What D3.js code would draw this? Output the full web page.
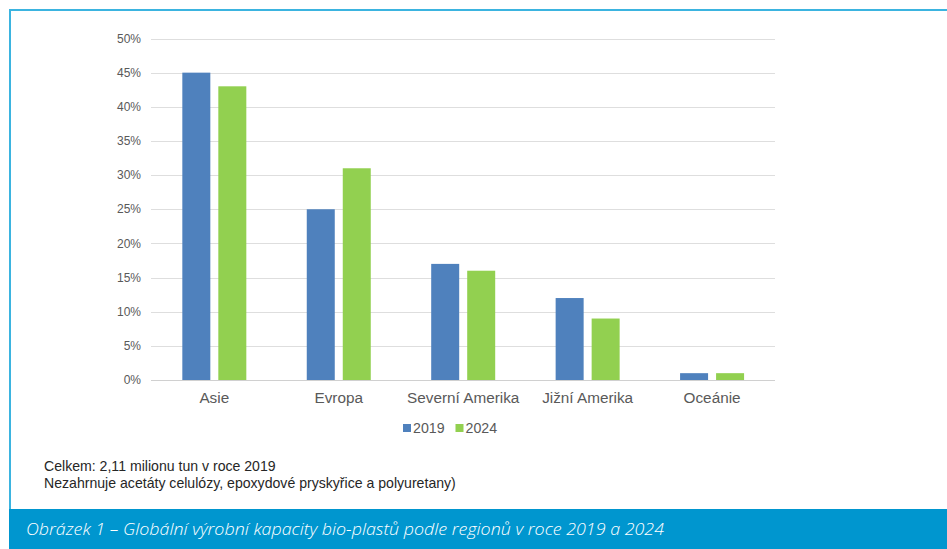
<!DOCTYPE html>
<html><head><meta charset="utf-8">
<script src="https://cdn.jsdelivr.net/npm/d3@7"></script>
<style>body{margin:0;background:#fff}svg{display:block}</style>
</head><body>
<svg id="c" width="947" height="549"></svg>
<script>
const categories = ["Asie", "Evropa", "Severní Amerika", "Jižní Amerika", "Oceánie"];
const seriesNames = ["2019", "2024"];
const values2019 = [45, 25, 17, 12, 1];
const values2024 = [43, 31, 16, 9, 1];
const yTicks = [0, 5, 10, 15, 20, 25, 30, 35, 40, 45, 50];
const colors = ["#4f81bd", "#92d050"];
const notes = ["Celkem: 2,11 milionu tun v roce 2019", "Nezahrnuje acetáty celulózy, epoxydové pryskyřice a polyuretany)"];
const caption = "Obrázek 1 – Globální výrobní kapacity bio-plastů podle regionů v roce 2019 a 2024";

const svg = d3.select("#c");
// frame
svg.append("rect").attr("x", 10).attr("y", 10).attr("width", 950).attr("height", 510)
  .attr("fill", "#fff").attr("stroke", "#3bb4e0").attr("stroke-width", 2);
svg.append("rect").attr("x", 9).attr("y", 509).attr("width", 940).attr("height", 40).attr("fill", "#0096cf");

const x0 = d3.scaleBand().domain(categories).range([152.1, 774.3]);
const y = d3.scaleLinear().domain([0, 50]).range([380, 38.5]);

const g = svg.append("g");
g.selectAll("line.grid").data(yTicks).join("line")
  .attr("x1", 151).attr("x2", 775)
  .attr("y1", d => Math.round(y(d)) + 0.5).attr("y2", d => Math.round(y(d)) + 0.5)
  .attr("stroke", d => d === 0 ? "#d0d0d0" : "#dedede").attr("stroke-width", 1);

g.selectAll("text.yt").data(yTicks).join("text")
  .attr("x", 141).attr("y", d => y(d)).attr("dy", "0.35em")
  .attr("text-anchor", "end").attr("font-family", "Liberation Sans, Arial, sans-serif")
  .attr("font-size", 12).attr("fill", "#595959").text(d => d + "%");

const barW = 28, gap = 8;
const series = [values2019, values2024];
series.forEach((vals, si) => {
  g.selectAll("rect.s" + si).data(vals).join("rect")
    .attr("x", (d, i) => x0(categories[i]) + x0.bandwidth() / 2 - barW - gap / 2 + si * (barW + gap))
    .attr("y", d => y(d)).attr("width", barW).attr("height", d => y(0) - y(d))
    .attr("fill", colors[si]);
});

g.selectAll("text.cat").data(categories).join("text")
  .attr("x", d => x0(d) + x0.bandwidth() / 2).attr("y", 403)
  .attr("text-anchor", "middle").attr("font-family", "Liberation Sans, Arial, sans-serif")
  .attr("font-size", 15.3).attr("fill", "#595959").text(d => d);

// legend
const leg = svg.append("g");
const legX = [403, 455.5];
seriesNames.forEach((s, i) => {
  leg.append("rect").attr("x", legX[i]).attr("y", 424).attr("width", 8).attr("height", 8).attr("fill", colors[i]);
  leg.append("text").attr("x", legX[i] + 10).attr("y", 433).attr("font-family", "Liberation Sans, Arial, sans-serif")
    .attr("font-size", 14.2).attr("fill", "#595959").text(s);
});

// notes
svg.selectAll("text.note").data(notes).join("text")
  .attr("x", 44).attr("y", (d, i) => 471 + i * 17)
  .attr("font-family", "Liberation Sans, Arial, sans-serif")
  .attr("font-size", 14.1).attr("fill", "#262626").text(d => d);

svg.append("text").attr("x", 26).attr("y", 535).attr("fill", "#fff")
  .attr("font-family", "Open Sans, sans-serif").attr("font-style", "italic").attr("font-weight", 300)
  .attr("font-size", 17).attr("textLength", 638).attr("lengthAdjust", "spacingAndGlyphs").text(caption);
</script>
</body></html>
